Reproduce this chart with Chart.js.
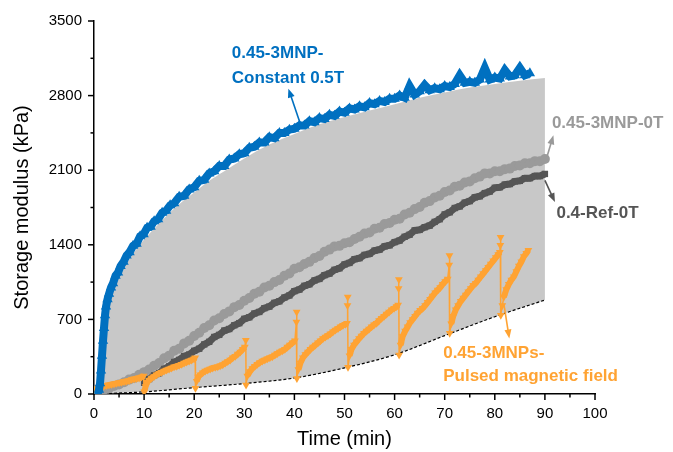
<!DOCTYPE html>
<html lang="en">

<head>
    <meta charset="UTF-8">
    <title>Storage modulus</title>
    <style>
        body { margin: 0; background: #fff; }
    </style>
</head>

<body>
    <canvas id="canvas" width="673" height="452"></canvas>

    <script src="https://cdn.jsdelivr.net/npm/chart.js@4.4.0/dist/chart.umd.min.js"></script>
    <script>
        // axis ticks
        const xTicks = [0, 10, 20, 30, 40, 50, 60, 70, 80, 90, 100];
        const yTicks = [0, 700, 1400, 2100, 2800, 3500];

        // 0.45-3MNP-Constant 0.5T (blue triangles)
        const blueT = [0.8, 1.0, 1.2, 1.4, 1.6, 1.8, 2.0, 2.2, 2.4, 2.7, 3.0, 3.4, 3.8, 4.3, 4.8, 5.3, 5.9, 6.5, 7.1, 7.8,
            8.5, 9.2, 9.9, 10.6, 11.3, 12, 12.8, 13.6, 14.4, 15.2, 16, 17, 18, 19, 20, 21, 22, 23, 24, 25, 26, 27, 28, 29,
            30, 31, 32, 33, 34, 35, 36, 37, 38, 39, 40, 41, 42, 43, 44, 45, 46, 47, 48, 49, 50, 51, 52, 53, 54, 55, 56,
            57, 58, 59, 60, 61, 62, 63, 64, 65, 66, 67, 68, 69, 70, 71, 72, 73, 74, 75, 76, 77, 78, 79, 80, 81, 82, 83,
            84, 85, 86, 87];
        const blueV = [10, 40, 100, 220, 360, 500, 620, 740, 820, 890, 940, 1000, 1040, 1110, 1140, 1200, 1240, 1300, 1330, 1390,
            1410, 1480, 1500, 1560, 1570, 1620, 1640, 1700, 1720, 1770, 1790, 1850, 1860, 1920, 1940, 2000, 2010, 2070, 2090, 2140, 2140, 2200, 2210, 2250,
            2260, 2310, 2320, 2360, 2360, 2410, 2400, 2450, 2450, 2480, 2490, 2520, 2520, 2560, 2550, 2590, 2580, 2620, 2610, 2650, 2640, 2680, 2670, 2700, 2690, 2730, 2720,
            2750, 2740, 2770, 2770, 2800, 2780, 2890, 2810, 2840, 2900, 2850, 2870, 2860, 2890, 2880, 2910, 2990, 2920, 2930, 2920, 2950, 3060, 2950, 2970, 2960, 3040, 2980,
            2990, 3060, 2990, 3010];

        // 0.45-3MNP-0T (light grey circles)
        const lightT = [0, 1, 2, 3, 4, 5, 6, 7, 8, 9, 10, 11, 12, 13, 14, 15, 16, 17, 18, 19, 20, 21, 22, 23, 24, 25, 26, 27, 28, 29,
            30, 31, 32, 33, 34, 35, 36, 37, 38, 39, 40, 41, 42, 43, 44, 45, 46, 47, 48, 49, 50, 51, 52, 53, 54, 55, 56, 57, 58, 59,
            60, 61, 62, 63, 64, 65, 66, 67, 68, 69, 70, 71, 72, 73, 74, 75, 76, 77, 78, 79, 80, 81, 82, 83, 84, 85, 86, 87, 88, 89, 90];
        const lightV = [15, 25, 40, 55, 75, 90, 110, 135, 150, 180, 205, 230, 265, 290, 335, 360, 405, 425, 475, 500, 545, 575, 620, 645, 690, 710, 750, 775, 815, 835,
            875, 900, 940, 960, 1000, 1015, 1050, 1070, 1110, 1130, 1175, 1190, 1220, 1240, 1275, 1295, 1335, 1355, 1385, 1390, 1415, 1425, 1455, 1475, 1505, 1515, 1550, 1560, 1595, 1605,
            1635, 1645, 1685, 1700, 1735, 1755, 1795, 1810, 1845, 1860, 1895, 1910, 1945, 1955, 1985, 1995, 2025, 2040, 2070, 2070, 2090, 2090, 2110, 2115, 2140, 2145, 2165, 2165, 2185, 2185, 2205];

        // 0.4-Ref-0T (dark grey squares)
        const darkT = [10, 11, 12, 13, 14, 15, 16, 17, 18, 19, 20, 21, 22, 23, 24, 25, 26, 27, 28, 29, 30, 31, 32, 33, 34, 35, 36, 37, 38, 39,
            40, 41, 42, 43, 44, 45, 46, 47, 48, 49, 50, 51, 52, 53, 54, 55, 56, 57, 58, 59, 60, 61, 62, 63, 64, 65, 66, 67, 68, 69,
            70, 71, 72, 73, 74, 75, 76, 77, 78, 79, 80, 81, 82, 83, 84, 85, 86, 87, 88, 89, 90];
        const darkV = [105, 140, 175, 195, 235, 260, 300, 320, 355, 370, 405, 425, 465, 490, 535, 555, 595, 610, 645, 665, 705, 720, 755, 770, 805, 820, 855, 870, 905, 925,
            965, 980, 1015, 1030, 1065, 1080, 1115, 1130, 1165, 1180, 1215, 1230, 1265, 1275, 1305, 1315, 1345, 1355, 1385, 1395, 1425, 1440, 1475, 1495, 1535, 1540, 1565, 1580, 1615, 1640,
            1685, 1705, 1745, 1760, 1795, 1810, 1845, 1855, 1885, 1900, 1935, 1940, 1965, 1970, 1995, 2000, 2025, 2025, 2045, 2045, 2065];

        // 0.45-3MNPs-Pulsed magnetic field (orange inverted triangles)
        const orangeT = [0, 0.5, 1, 1.5, 2, 2.5, 3, 3.5, 4, 4.5, 5, 5.5, 6, 6.5, 7, 7.5, 8, 8.5, 9, 9.5, 9.9, 10.0,
            10.3, 10.6, 11, 11.5, 12, 12.5, 13, 13.5, 14, 14.5, 15, 15.5, 16, 16.5, 17, 17.5, 18, 18.5, 19, 19.5, 20, 20.2, 20.25,
            20.5, 20.8, 21.2, 21.7, 22.2, 22.7, 23.2, 23.7, 24.2, 24.7, 25.2, 25.7, 26.2, 26.7, 27.2, 27.7, 28.2, 28.7, 29.2, 29.7, 30.1, 30.3, 30.35,
            30.6, 31.1, 31.6, 32.1, 32.6, 33.1, 33.6, 34.1, 34.6, 35.1, 35.6, 36.1, 36.6, 37.1, 37.6, 38.1, 38.6, 39.1, 39.6, 40.1, 40.4, 40.45, 40.5,
            40.8, 41.2, 41.7, 42.2, 42.7, 43.2, 43.7, 44.2, 44.7, 45.2, 45.7, 46.2, 46.7, 47.2, 47.7, 48.2, 48.7, 49.2, 49.7, 50.2, 50.5, 50.6, 50.65, 50.7,
            51, 51.4, 51.9, 52.4, 52.9, 53.4, 53.9, 54.4, 54.9, 55.4, 55.9, 56.4, 56.9, 57.4, 57.9, 58.4, 58.9, 59.4, 59.9, 60.4, 60.7, 60.8, 60.85, 60.9,
            61.2, 61.6, 62.1, 62.6, 63.1, 63.6, 64.1, 64.6, 65.1, 65.6, 66.1, 66.6, 67.1, 67.6, 68.1, 68.6, 69.1, 69.6, 70.1, 70.6, 70.9, 70.95, 71,
            71.3, 71.7, 72.2, 72.7, 73.2, 73.7, 74.2, 74.7, 75.2, 75.7, 76.2, 76.7, 77.2, 77.7, 78.2, 78.7, 79.2, 79.7, 80.2, 80.7, 81, 81.1, 81.15, 81.2,
            81.5, 81.8, 82.3, 82.8, 83.3, 83.8, 84.3, 84.8, 85.3, 85.8, 86.3, 86.7];
        const orangeV = [35, 50, 60, 65, 75, 80, 85, 90, 95, 100, 105, 110, 115, 120, 125, 135, 140, 145, 150, 160, 170, 20,
            70, 110, 130, 150, 165, 180, 195, 205, 215, 225, 235, 245, 255, 260, 270, 280, 290, 300, 310, 320, 330, 340, 55,
            120, 160, 180, 200, 215, 225, 235, 245, 250, 255, 265, 275, 290, 305, 320, 340, 355, 375, 395, 420, 440, 505, 85,
            170, 210, 240, 260, 280, 295, 310, 320, 330, 340, 350, 365, 380, 395, 405, 420, 440, 460, 480, 500, 675, 770, 145,
            230, 290, 340, 370, 395, 420, 440, 460, 480, 500, 520, 535, 550, 565, 585, 600, 615, 630, 645, 655, 665, 830, 910, 250,
            360, 420, 460, 490, 520, 545, 570, 590, 610, 630, 650, 665, 690, 710, 730, 750, 770, 790, 805, 820, 835, 990, 1075, 365,
            460, 540, 590, 630, 670, 700, 730, 760, 785, 805, 830, 860, 890, 920, 950, 975, 1000, 1030, 1055, 1080, 1210, 1300, 570,
            660, 730, 790, 830, 870, 900, 930, 960, 990, 1020, 1040, 1070, 1100, 1130, 1160, 1190, 1220, 1250, 1280, 1310, 1330, 1395, 1470, 740,
            830, 910, 980, 1030, 1070, 1100, 1150, 1200, 1240, 1290, 1320, 1350];

        // grey band: upper and lower (dashed) bounds
        const bandT = [0, 1, 1.5, 2, 2.5, 3, 4, 5, 6, 8, 10, 12, 14, 16, 18, 20, 23, 26, 30, 35, 40, 45, 50, 55, 60, 65, 70, 75, 80, 85, 90];
        const bandHi = [0, 40, 300, 580, 790, 900, 1020, 1110, 1190, 1330, 1450, 1550, 1650, 1740, 1820, 1890, 2000, 2090, 2210, 2340, 2440, 2530, 2600, 2660, 2720, 2780, 2830, 2875, 2910, 2940, 2965];
        const lowT = [0, 10, 20, 30, 40, 50, 60, 70, 80, 90];
        const lowV = [0, 20, 60, 98, 150, 245, 368, 548, 725, 882];

        const BLUE = '#0070C0', LIGHT = '#9A9A9A', DARK = '#555555', ORANGE = '#FFA333';

        function xy(ts, vs) {
            return ts.map((t, i) => ({ x: t, y: vs[i] }));
        }

        const notes = [
            { lines: ['0.45-3MNP-', 'Constant 0.5T'], x: 27.5, y: [3196, 2962], color: BLUE, arrow: [41.4, 2505, 38.8, 2865] },
            { lines: ['0.45-3MNP-0T'], x: 91.4, y: [2539], color: LIGHT, arrow: [90.4, 2223, 91.7, 2427] },
            { lines: ['0.4-Ref-0T'], x: 92.3, y: [1695], color: DARK, arrow: [90, 2005, 92, 1801] },
            { lines: ['0.45-3MNPs-', 'Pulsed magnetic field'], x: 69.7, y: [380, 170], color: ORANGE, arrow: [81.8, 848, 82.9, 521] }
        ];

        const extras = {
            id: 'extras',
            afterDraw(chart) {
                const { ctx, scales: { x, y } } = chart;
                ctx.save();
                ctx.strokeStyle = '#000';
                ctx.lineWidth = 1.5;
                for (let i = 0; i < xTicks.length; i++) {
                    let px = x.getPixelForValue(xTicks[i]);
                    ctx.beginPath(); ctx.moveTo(px, y.bottom); ctx.lineTo(px, y.bottom + 6); ctx.stroke();
                    if (i < xTicks.length - 1) {
                        px = x.getPixelForValue((xTicks[i] + xTicks[i + 1]) / 2);
                        ctx.beginPath(); ctx.moveTo(px, y.bottom); ctx.lineTo(px, y.bottom + 3.5); ctx.stroke();
                    }
                }
                for (let i = 0; i < yTicks.length; i++) {
                    let py = y.getPixelForValue(yTicks[i]);
                    ctx.beginPath(); ctx.moveTo(x.left, py); ctx.lineTo(x.left - 6, py); ctx.stroke();
                    if (i < yTicks.length - 1) {
                        py = y.getPixelForValue((yTicks[i] + yTicks[i + 1]) / 2);
                        ctx.beginPath(); ctx.moveTo(x.left, py); ctx.lineTo(x.left - 3.5, py); ctx.stroke();
                    }
                }

                ctx.font = 'bold 17px "Liberation Sans", Arial, sans-serif';
                ctx.textBaseline = 'middle';
                ctx.textAlign = 'left';
                notes.forEach(n => {
                    ctx.fillStyle = n.color;
                    ctx.strokeStyle = n.color;
                    n.lines.forEach((s, i) => {
                        ctx.fillText(s, x.getPixelForValue(n.x), y.getPixelForValue(n.y[i]));
                    });
                    const x1 = x.getPixelForValue(n.arrow[0]), y1 = y.getPixelForValue(n.arrow[1]);
                    const x2 = x.getPixelForValue(n.arrow[2]), y2 = y.getPixelForValue(n.arrow[3]);
                    const a = Math.atan2(y2 - y1, x2 - x1);
                    ctx.lineWidth = 1.6;
                    ctx.beginPath();
                    ctx.moveTo(x1, y1);
                    ctx.lineTo(x2 - 6 * Math.cos(a), y2 - 6 * Math.sin(a));
                    ctx.stroke();
                    ctx.beginPath();
                    ctx.moveTo(x2, y2);
                    ctx.lineTo(x2 - 9 * Math.cos(a) + 3.5 * Math.sin(a), y2 - 9 * Math.sin(a) - 3.5 * Math.cos(a));
                    ctx.lineTo(x2 - 9 * Math.cos(a) - 3.5 * Math.sin(a), y2 - 9 * Math.sin(a) + 3.5 * Math.cos(a));
                    ctx.closePath();
                    ctx.fill();
                });
                ctx.restore();
            }
        };

        Chart.defaults.font.family = '"Liberation Sans", Arial, sans-serif';
        Chart.defaults.color = '#000';

        // thin line on the near-vertical drops, thick band on the rising parts
        function dropWidth(thick) {
            return c => (Math.abs(c.p1.parsed.y - c.p0.parsed.y) > 60 && Math.abs(c.p1.parsed.x - c.p0.parsed.x) < 0.35) ? 1.5 : thick;
        }

        const ctx = document.getElementById('canvas').getContext('2d');
        const myChart = new Chart(ctx, {
            type: 'line',
            data: {
                datasets: [
                    {
                        label: 'band',
                        data: xy(bandT, bandHi),
                        borderWidth: 0,
                        pointRadius: 0,
                        backgroundColor: '#C8C8C8',
                        fill: '+1',
                        cubicInterpolationMode: 'monotone',
                        order: 10
                    },
                    {
                        label: 'low',
                        data: xy(lowT, lowV),
                        borderColor: '#000',
                        borderWidth: 1.2,
                        borderDash: [3, 2],
                        pointRadius: 0,
                        fill: false,
                        cubicInterpolationMode: 'monotone',
                        order: 9
                    },
                    {
                        label: '0.45-3MNP-0T',
                        data: xy(lightT, lightV),
                        borderColor: LIGHT,
                        backgroundColor: LIGHT,
                        borderWidth: 7,
                        pointStyle: 'circle',
                        pointRadius: 5,
                        pointBorderWidth: 0,
                        order: 5
                    },
                    {
                        label: '0.4-Ref-0T',
                        data: xy(darkT, darkV),
                        borderColor: DARK,
                        backgroundColor: DARK,
                        borderWidth: 7,
                        pointStyle: 'rect',
                        pointRadius: 4.5,
                        pointBorderWidth: 0,
                        order: 4
                    },
                    {
                        label: '0.45-3MNPs-Pulsed magnetic field',
                        data: xy(orangeT, orangeV),
                        borderColor: ORANGE,
                        backgroundColor: ORANGE,
                        borderWidth: 6,
                        segment: { borderWidth: dropWidth(6) },
                        pointStyle: 'triangle',
                        rotation: 180,
                        pointRadius: 4.5,
                        pointBorderWidth: 0,
                        order: 3
                    },
                    {
                        label: '0.45-3MNP-Constant 0.5T',
                        data: xy(blueT, blueV),
                        borderColor: BLUE,
                        backgroundColor: BLUE,
                        borderWidth: 8,
                        pointStyle: 'triangle',
                        pointRadius: 6,
                        pointBorderWidth: 0,
                        order: 2
                    }
                ]
            },
            options: {
                responsive: false,
                animation: false,
                layout: { padding: { top: 21, right: 78, bottom: 0, left: 0 } },
                plugins: {
                    legend: { display: false },
                    tooltip: { enabled: false }
                },
                scales: {
                    x: {
                        type: 'linear',
                        min: 0,
                        max: 100,
                        afterBuildTicks: s => { s.ticks = xTicks.map(v => ({ value: v })); },
                        afterFit: s => { s.height = 58; },
                        grid: { display: true, drawOnChartArea: false, color: 'rgba(0,0,0,0)', tickLength: 6 },
                        border: { display: true, color: '#000', width: 1.5 },
                        ticks: { font: { size: 15 }, padding: 5, maxRotation: 0, autoSkip: false, callback: v => String(v) },
                        title: { display: true, text: 'Time (min)', font: { size: 20 }, padding: { top: 0, bottom: 1 } }
                    },
                    y: {
                        min: 0,
                        max: 3500,
                        afterBuildTicks: s => { s.ticks = yTicks.map(v => ({ value: v })); },
                        afterFit: s => { s.width = 94; },
                        grid: { display: true, drawOnChartArea: false, color: 'rgba(0,0,0,0)', tickLength: 6 },
                        border: { display: true, color: '#000', width: 1.5 },
                        ticks: { font: { size: 15 }, padding: 6, autoSkip: false, callback: v => String(v) },
                        title: { display: true, text: 'Storage modulus (kPa)', font: { size: 20 }, padding: { top: 10, bottom: 0 } }
                    }
                }
            },
            plugins: [extras]
        });
    </script>
</body>

</html>
